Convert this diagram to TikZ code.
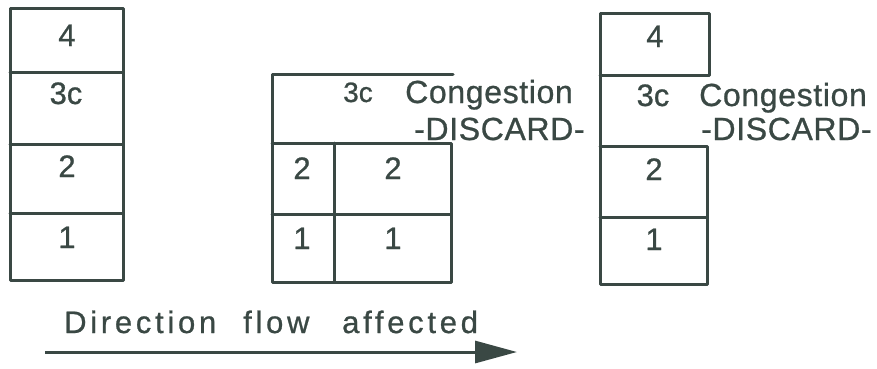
\documentclass[tikz,border=0pt]{standalone}
\usepackage{fontspec}
\setmainfont[FakeBold=0.8]{Liberation Sans}
\newfontfamily\notefont[LetterSpace=2,FakeBold=0.8]{Liberation Sans}
\newfontfamily\spaced[LetterSpace=12,FakeBold=0.8]{Liberation Sans}
\usetikzlibrary{arrows.meta}
\definecolor{ink}{RGB}{58,72,68}
\begin{document}
\begin{tikzpicture}[x=1pt,y=-1pt,
  box/.style={draw=ink, line width=3pt, line join=round, line cap=round},
  lbl/.style={font=\fontsize{31}{35}\selectfont, text=ink, anchor=base, inner sep=0pt},
  note/.style={font=\notefont\fontsize{32}{36}\selectfont, text=ink, anchor=base west, inner sep=0pt},
  small/.style={font=\fontsize{28}{32}\selectfont, text=ink, anchor=base, inner sep=0pt},
  bot/.style={font=\spaced\fontsize{31}{35}\selectfont, text=ink, anchor=base west, inner sep=0pt}]
\useasboundingbox (0,0) rectangle (877,368);

% left stack
\draw[box] (10,8) rectangle (123,280);
\draw[box] (10,72) -- (123,72);
\draw[box] (10,144) -- (123,144);
\draw[box] (10,213) -- (123,213);
\node[lbl] (l4) at (67,46) {4};
\node[lbl] (l3) at (66,104) {3c};
\node[lbl] (l2) at (67,177) {2};
\node[lbl] (l1) at (67,248) {1};

% middle stack
\draw[box] (453,74) -- (272,74) -- (272,282) -- (451,282) -- (451,143) -- (272,143);
\draw[box] (334,143) -- (334,282);
\draw[box] (272,214) -- (451,214);
\node[small] (m3) at (358,102) {3c};
\node[note] (mc) at (405,103) {Congestion};
\node[note] (md) at (414,140) {-DISCARD-};
\node[lbl] (m2a) at (302,179) {2};
\node[lbl] (m2b) at (393,179) {2};
\node[lbl] (m1a) at (302,249) {1};
\node[lbl] (m1b) at (393,249) {1};

% right stack
\draw[box] (600,75) -- (600,13) -- (709,13) -- (709,75) -- (600,75);
\draw[box] (600,75) -- (600,284) -- (707,284) -- (707,146) -- (600,146);
\draw[box] (600,217) -- (707,217);
\node[lbl] (r4) at (655,47) {4};
\node[lbl] (r3) at (653,106) {3c};
\node[note] (rc) at (699,106) {Congestion};
\node[note] (rd) at (701,140) {-DISCARD-};
\node[lbl] (r2) at (654,180) {2};
\node[lbl] (r1) at (654,250) {1};

% direction
\node[bot] (t1) at (64,333) {Direction};
\node[bot] (t2) at (243,333) {flow};
\node[bot] (t3) at (342,333) {affected};
\coordinate (as) at (45,352);
\coordinate (ae) at (517,352);
\draw[draw=ink, fill=ink, line width=3pt, -{Triangle[length=42pt,width=22pt]}] (as) -- (ae);
\end{tikzpicture}
\end{document}
